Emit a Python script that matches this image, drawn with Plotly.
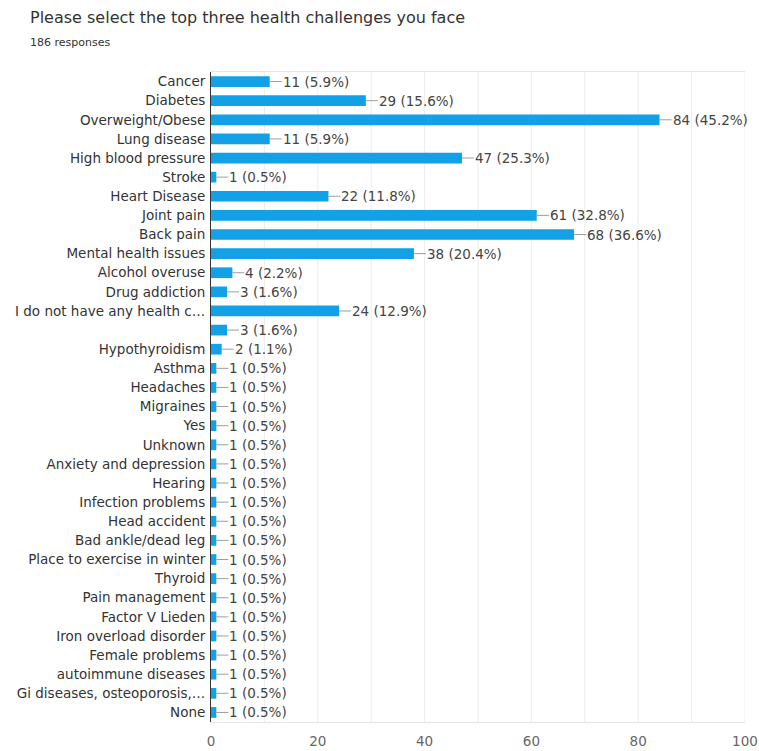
import plotly.graph_objects as go

categories = [
    "Cancer", "Diabetes", "Overweight/Obese", "Lung disease", "High blood pressure",
    "Stroke", "Heart Disease", "Joint pain", "Back pain", "Mental health issues",
    "Alcohol overuse", "Drug addiction", "I do not have any health c…", " ",
    "Hypothyroidism", "Asthma", "Headaches", "Migraines", "Yes", "Unknown",
    "Anxiety and depression", "Hearing", "Infection problems", "Head accident",
    "Bad ankle/dead leg", "Place to exercise in winter", "Thyroid", "Pain management",
    "Factor V Lieden", "Iron overload disorder", "Female problems",
    "autoimmune diseases", "Gi diseases, osteoporosis,…", "None",
]
counts = [11, 29, 84, 11, 47, 1, 22, 61, 68, 38, 4, 3, 24, 3, 2,
          1, 1, 1, 1, 1, 1, 1, 1, 1, 1, 1, 1, 1, 1, 1, 1, 1, 1, 1]
percents = ["5.9", "15.6", "45.2", "5.9", "25.3", "0.5", "11.8", "32.8", "36.6", "20.4",
            "2.2", "1.6", "12.9", "1.6", "1.1",
            "0.5", "0.5", "0.5", "0.5", "0.5", "0.5", "0.5", "0.5", "0.5", "0.5",
            "0.5", "0.5", "0.5", "0.5", "0.5", "0.5", "0.5", "0.5", "0.5"]
x_ticks = [0, 20, 40, 60, 80, 100]

BAR = "#12a0e6"
FONT = "DejaVu Sans, sans-serif"

fig = go.Figure(go.Bar(
    x=counts, y=categories, orientation="h",
    marker=dict(color=BAR, line=dict(width=0)),
    hoverinfo="skip",
))

for c, v, p in zip(categories, counts, percents):
    fig.add_annotation(
        x=v, y=c, xref="x", yref="y",
        text=f"{v} ({p}%)", showarrow=True, arrowhead=0, arrowwidth=1,
        arrowcolor="#9e9e9e", ax=12, ay=0, standoff=0,
        xanchor="left", yanchor="middle", borderpad=0,
        font=dict(family=FONT, size=13.5, color="#444444"),
    )

fig.add_annotation(
    text="Please select the top three health challenges you face",
    xref="paper", yref="paper", x=-0.3427, y=1.084, xanchor="left", yanchor="middle",
    showarrow=False, font=dict(family="DejaVu Sans, sans-serif", size=16, color="#333333"),
)
fig.add_annotation(
    text="186 responses",
    xref="paper", yref="paper", x=-0.3427, y=1.046, xanchor="left", yanchor="middle",
    showarrow=False, font=dict(family="DejaVu Sans, sans-serif", size=11, color="#333333"),
)

fig.update_layout(
    width=759, height=751,
    margin=dict(l=211, r=14, t=72, b=29),
    plot_bgcolor="white", paper_bgcolor="white",
    bargap=0.44, showlegend=False,
    xaxis=dict(
        range=[0, 100], tickvals=x_ticks, showgrid=False,
        showline=True, linecolor="#e6e6e6", linewidth=1, mirror=True,
        zeroline=False, ticks="", ticklabelstandoff=7, automargin=False,
        tickfont=dict(family=FONT, size=13.5, color="#666666"),
        fixedrange=True,
    ),
    yaxis=dict(
        type="category", categoryorder="array", categoryarray=categories,
        range=[len(categories) - 0.5, -0.5], automargin=False,
        showline=True, linecolor="#333333", linewidth=1, mirror=False,
        showgrid=False, ticks="", ticklabelstandoff=2,
        tickfont=dict(family=FONT, size=13.5, color="#333333"),
        fixedrange=True,
    ),
)

# vertical gridlines every 10 units
for g in range(10, 101, 10):
    fig.add_shape(type="line", xref="x", yref="paper", x0=g, x1=g, y0=0, y1=1,
                  line=dict(color="#ececec", width=1), layer="below")

fig.write_html("out.html")
